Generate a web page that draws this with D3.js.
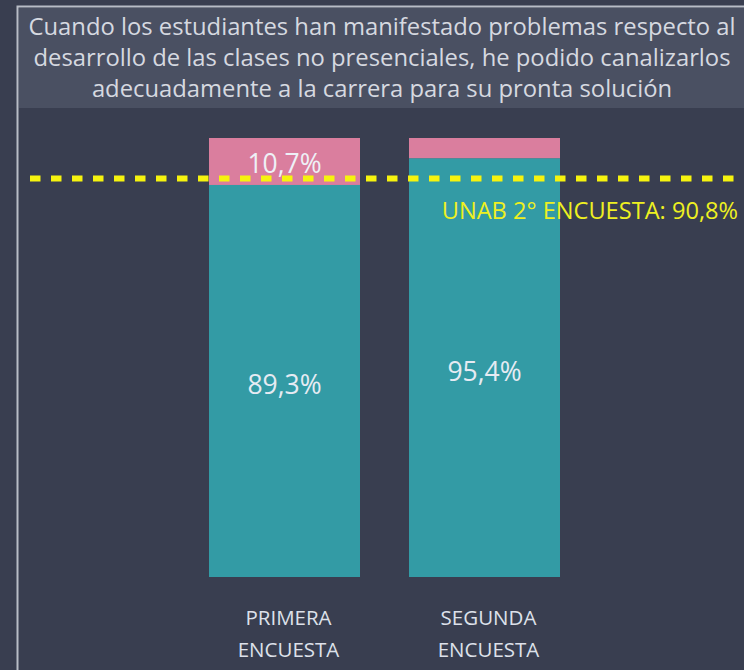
<!DOCTYPE html>
<html>
<head>
<meta charset="utf-8">
<script src="https://cdn.jsdelivr.net/npm/d3@7"></script>
<style>
  body { margin: 0; background: #393e50; }
  svg { display: block; }
</style>
</head>
<body>
<div id="chart"></div>
<script>
// chart size
const width = 744,
  height = 670,
  margins = { top: 138, bottom: 93, left: 185, right: 160 };

// data
const categories = ["PRIMERA ENCUESTA", "SEGUNDA ENCUESTA"];
const positivos = [89.3, 95.4];
const negativos = [10.7, 4.6];
const referencia = 90.8;
const referenciaLabel = "UNAB 2° ENCUESTA: 90,8%";
const titleLines = [
  "Cuando los estudiantes han manifestado problemas respecto al",
  "desarrollo de las clases no presenciales, he podido canalizarlos",
  "adecuadamente a la carrera para su pronta solución"
];

const colors = { pos: "#339ba5", neg: "#da7e9e", ref: "#f6f30f" };
const fmt = v => String(v.toFixed(1)).replace(".", ",") + "%";
const font = "'Open Sans', sans-serif";

const svg = d3.select("#chart")
  .append("svg")
  .attr("width", width)
  .attr("height", height);

// outer frame + title box
svg.append("rect")
  .attr("x", 17.5).attr("y", 6.5)
  .attr("width", width).attr("height", height)
  .attr("fill", "none")
  .attr("stroke", "#b8bcc6")
  .attr("stroke-width", 2);

svg.append("rect")
  .attr("x", 19).attr("y", 8)
  .attr("width", width - 19).attr("height", 100)
  .attr("fill", "#4a5062");

svg.selectAll(".title")
  .data(titleLines)
  .join("text")
  .attr("class", "title")
  .attr("x", 382)
  .attr("y", (d, i) => 35 + i * 31)
  .attr("text-anchor", "middle")
  .style("font-family", font)
  .style("font-size", "23.8px")
  .attr("fill", "#d6d9e0")
  .text(d => d);

// scales
const xScale = d3.scaleBand()
  .domain(categories)
  .range([margins.left, width - margins.right])
  .paddingInner(0.245)
  .paddingOuter(0.12);

const yScale = d3.scaleLinear()
  .domain([0, 100])
  .range([height - margins.bottom, margins.top]);

// stacked bars
const rows = categories.map((c, i) => ({ cat: c, pos: positivos[i], neg: negativos[i] }));
const stacked = d3.stack().keys(["pos", "neg"])(rows);

svg.selectAll(".layer")
  .data(stacked)
  .join("g")
  .attr("class", "layer")
  .attr("fill", d => colors[d.key])
  .selectAll("rect")
  .data(d => d)
  .join("rect")
  .attr("x", d => xScale(d.data.cat))
  .attr("width", xScale.bandwidth())
  .attr("y", d => yScale(d[1]))
  .attr("height", d => yScale(d[0]) - yScale(d[1]));

// value labels
svg.selectAll(".lbl-pos")
  .data(rows)
  .join("text")
  .attr("class", "lbl-pos")
  .attr("x", d => xScale(d.cat) + xScale.bandwidth() / 2)
  .attr("y", d => yScale(d.pos / 2) + 13)
  .attr("text-anchor", "middle")
  .style("font-family", font)
  .style("font-size", "26.5px")
  .attr("fill", "#e6ebf3")
  .text(d => fmt(d.pos));

svg.selectAll(".lbl-neg")
  .data(rows.filter(d => d.neg > 8))
  .join("text")
  .attr("class", "lbl-neg")
  .attr("x", d => xScale(d.cat) + xScale.bandwidth() / 2)
  .attr("y", d => yScale(d.pos + d.neg / 2) + 12)
  .attr("text-anchor", "middle")
  .style("font-family", font)
  .style("font-size", "26.5px")
  .attr("fill", "#eef0f6")
  .text(d => fmt(d.neg));

// reference line
svg.append("line")
  .attr("x1", 30).attr("x2", width)
  .attr("y1", yScale(referencia)).attr("y2", yScale(referencia))
  .attr("stroke", colors.ref)
  .attr("stroke-width", 6)
  .attr("stroke-dasharray", "10.5,10.5");

svg.append("text")
  .attr("x", 738)
  .attr("y", yScale(referencia) + 41)
  .attr("text-anchor", "end")
  .style("font-family", font)
  .style("font-size", "23.6px")
  .attr("fill", "#eef021")
  .text(referenciaLabel);

// category labels
categories.forEach(c => {
  const words = c.split(" ");
  const cx = xScale(c) + xScale.bandwidth() / 2 + 4;
  const t = svg.append("text")
    .attr("x", cx)
    .attr("y", 625)
    .attr("text-anchor", "middle")
    .style("font-family", font)
    .style("font-size", "20.5px")
    .attr("fill", "#dde1ea");
  words.forEach((w, i) => {
    t.append("tspan")
      .attr("x", cx)
      .attr("dy", i === 0 ? 0 : 32)
      .text(w);
  });
});
</script>
</body>
</html>
